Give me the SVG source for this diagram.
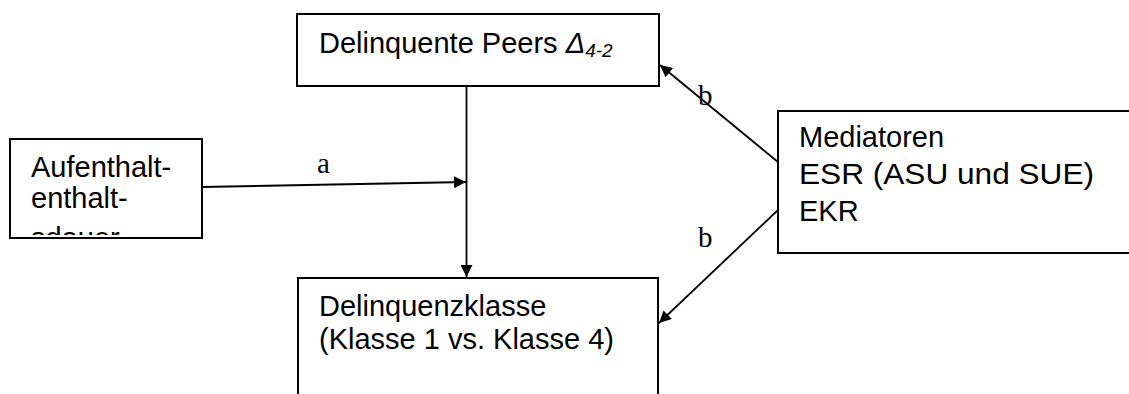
<svg xmlns="http://www.w3.org/2000/svg" width="1129" height="394" viewBox="0 0 1129 394">
<style>
.box{fill:#fff;stroke:#000;stroke-width:2}
.t{font-family:"Liberation Sans",Arial,sans-serif;font-size:29px;fill:#000}
.lbl{font-family:"Liberation Serif","Times New Roman",serif;font-size:29px;fill:#000}
.c{stroke:#000;stroke-width:1.8;fill:none}
</style>
<defs>
<marker id="ah" viewBox="0 0 10 10" refX="10" refY="5" markerWidth="16" markerHeight="12" markerUnits="userSpaceOnUse" orient="auto">
<path d="M0,0 L10,5 L0,10 Z" fill="#000"/>
</marker>
<clipPath id="clipA"><rect x="11" y="140" width="190" height="95"/></clipPath>
</defs>
<g id="node-peers">
<rect class="box" x="297" y="14" width="362" height="72"/>
<text class="t" x="319" y="53">Delinquente Peers <tspan font-style="italic">Δ</tspan><tspan font-style="italic" font-size="19" dy="4">4-2</tspan></text>
</g>
<g id="node-aufenthalt">
<rect class="box" x="10" y="139" width="192" height="99"/>
<g clip-path="url(#clipA)">
<text class="t" x="31" y="177">Aufenthalt-</text>
<text class="t" x="31" y="208">enthalt-</text>
<text class="t" x="31" y="248">sdauer</text>
</g>
</g>
<g id="node-mediatoren">
<rect class="box" x="778" y="111" width="380" height="142"/>
<text class="t" x="799" y="147">Mediatoren</text>
<text class="t" x="799" y="184" textLength="295" lengthAdjust="spacingAndGlyphs">ESR (ASU und SUE)</text>
<text class="t" x="799" y="221">EKR</text>
</g>
<g id="node-klasse">
<rect class="box" x="298" y="278" width="360" height="130"/>
<text class="t" x="319" y="316">Delinquenzklasse</text>
<text class="t" x="319" y="349">(Klasse 1 vs. Klasse 4)</text>
</g>
<g id="connectors">
<line class="c" x1="466.5" y1="86" x2="466.5" y2="277" marker-end="url(#ah)"/>
<line class="c" x1="202" y1="187" x2="466" y2="182" marker-end="url(#ah)"/>
<line class="c" x1="778" y1="162" x2="660" y2="65" marker-end="url(#ah)"/>
<line class="c" x1="778" y1="210" x2="659" y2="323" marker-end="url(#ah)"/>
<text class="lbl" x="317" y="173">a</text>
<text class="lbl" x="698" y="105">b</text>
<text class="lbl" x="698" y="247">b</text>
</g>
</svg>
